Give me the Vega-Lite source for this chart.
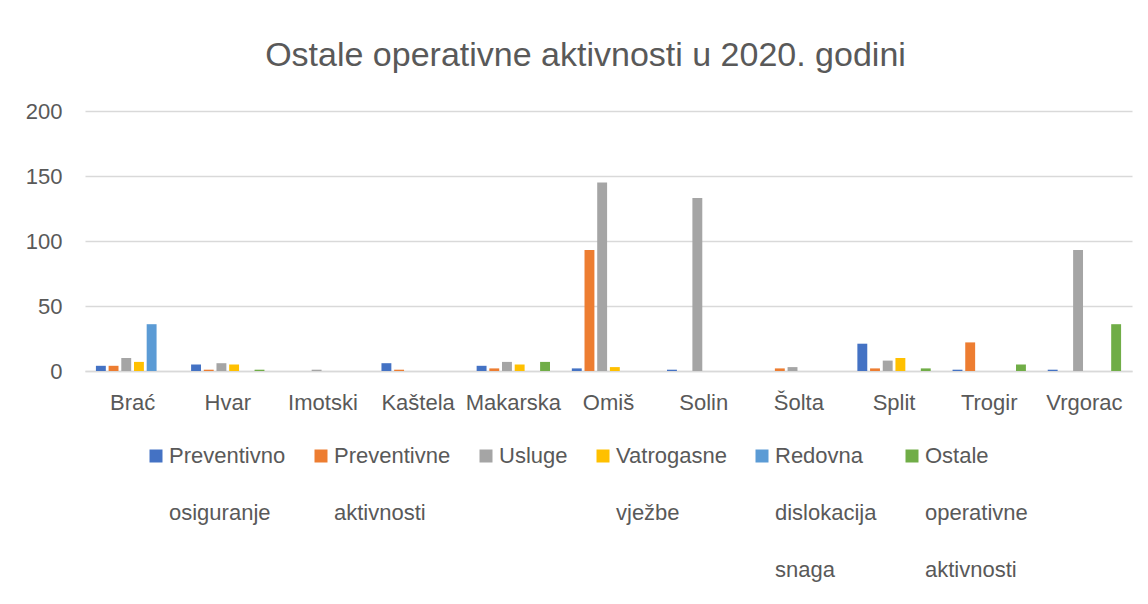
{
  "$schema": "https://vega.github.io/schema/vega-lite/v6.json",
  "width": 1047,
  "height": 260,
  "autosize": "none",
  "padding": {"left": 85, "top": 111, "right": 16, "bottom": 233},
  "background": "white",
  "title": {
    "text": "Ostale operativne aktivnosti u 2020. godini",
    "font": "Liberation Sans",
    "fontSize": 34,
    "fontWeight": "normal",
    "color": "#595959",
    "anchor": "middle",
    "offset": 27,
    "dx": -23
  },
  "data": {
    "values": [
      {"grad": "Brać", "vrsta": "Preventivno osiguranje", "broj": 4},
      {"grad": "Brać", "vrsta": "Preventivne aktivnosti", "broj": 4},
      {"grad": "Brać", "vrsta": "Usluge", "broj": 10},
      {"grad": "Brać", "vrsta": "Vatrogasne vježbe", "broj": 7},
      {"grad": "Brać", "vrsta": "Redovna dislokacija snaga", "broj": 36},
      {"grad": "Hvar", "vrsta": "Preventivno osiguranje", "broj": 5},
      {"grad": "Hvar", "vrsta": "Preventivne aktivnosti", "broj": 1},
      {"grad": "Hvar", "vrsta": "Usluge", "broj": 6},
      {"grad": "Hvar", "vrsta": "Vatrogasne vježbe", "broj": 5},
      {"grad": "Hvar", "vrsta": "Ostale operativne aktivnosti", "broj": 1},
      {"grad": "Imotski", "vrsta": "Usluge", "broj": 1},
      {"grad": "Kaštela", "vrsta": "Preventivno osiguranje", "broj": 6},
      {"grad": "Kaštela", "vrsta": "Preventivne aktivnosti", "broj": 1},
      {"grad": "Makarska", "vrsta": "Preventivno osiguranje", "broj": 4},
      {"grad": "Makarska", "vrsta": "Preventivne aktivnosti", "broj": 2},
      {"grad": "Makarska", "vrsta": "Usluge", "broj": 7},
      {"grad": "Makarska", "vrsta": "Vatrogasne vježbe", "broj": 5},
      {"grad": "Makarska", "vrsta": "Ostale operativne aktivnosti", "broj": 7},
      {"grad": "Omiš", "vrsta": "Preventivno osiguranje", "broj": 2},
      {"grad": "Omiš", "vrsta": "Preventivne aktivnosti", "broj": 93},
      {"grad": "Omiš", "vrsta": "Usluge", "broj": 145},
      {"grad": "Omiš", "vrsta": "Vatrogasne vježbe", "broj": 3},
      {"grad": "Solin", "vrsta": "Preventivno osiguranje", "broj": 1},
      {"grad": "Solin", "vrsta": "Usluge", "broj": 133},
      {"grad": "Šolta", "vrsta": "Preventivne aktivnosti", "broj": 2},
      {"grad": "Šolta", "vrsta": "Usluge", "broj": 3},
      {"grad": "Split", "vrsta": "Preventivno osiguranje", "broj": 21},
      {"grad": "Split", "vrsta": "Preventivne aktivnosti", "broj": 2},
      {"grad": "Split", "vrsta": "Usluge", "broj": 8},
      {"grad": "Split", "vrsta": "Vatrogasne vježbe", "broj": 10},
      {"grad": "Split", "vrsta": "Ostale operativne aktivnosti", "broj": 2},
      {"grad": "Trogir", "vrsta": "Preventivno osiguranje", "broj": 1},
      {"grad": "Trogir", "vrsta": "Preventivne aktivnosti", "broj": 22},
      {"grad": "Trogir", "vrsta": "Ostale operativne aktivnosti", "broj": 5},
      {"grad": "Vrgorac", "vrsta": "Preventivno osiguranje", "broj": 1},
      {"grad": "Vrgorac", "vrsta": "Usluge", "broj": 93},
      {"grad": "Vrgorac", "vrsta": "Ostale operativne aktivnosti", "broj": 36}
    ]
  },
  "mark": {"type": "bar"},
  "encoding": {
    "x": {
      "field": "grad",
      "type": "nominal",
      "scale": {
        "domain": ["Brać", "Hvar", "Imotski", "Kaštela", "Makarska", "Omiš", "Solin", "Šolta", "Split", "Trogir", "Vrgorac"],
        "paddingInner": 0.2,
        "paddingOuter": 0.1
      },
      "axis": {
        "title": null,
        "labelAngle": 0,
        "ticks": false,
        "labelPadding": 21,
        "domainColor": "#d9d9d9",
        "domainWidth": 1.5,
        "grid": false
      }
    },
    "xOffset": {
      "field": "vrsta",
      "type": "nominal",
      "scale": {
        "domain": ["Preventivno osiguranje", "Preventivne aktivnosti", "Usluge", "Vatrogasne vježbe", "Redovna dislokacija snaga", "Ostale operativne aktivnosti"],
        "paddingInner": 0.22,
        "paddingOuter": 0.11
      }
    },
    "y": {
      "field": "broj",
      "type": "quantitative",
      "scale": {"domain": [0, 200], "nice": false},
      "axis": {
        "title": null,
        "values": [0, 50, 100, 150, 200],
        "ticks": false,
        "domain": false,
        "labelPadding": 23,
        "gridColor": "#d9d9d9",
        "gridWidth": 1.3
      }
    },
    "color": {
      "field": "vrsta",
      "type": "nominal",
      "scale": {
        "domain": ["Preventivno osiguranje", "Preventivne aktivnosti", "Usluge", "Vatrogasne vježbe", "Redovna dislokacija snaga", "Ostale operativne aktivnosti"],
        "range": ["#4472C4", "#ED7D31", "#A5A5A5", "#FFC000", "#5B9BD5", "#70AD47"]
      },
      "legend": {
        "title": null,
        "orient": "none",
        "legendX": 60,
        "legendY": 334,
        "direction": "horizontal",
        "columns": 6,
        "columnPadding": 24,
        "gridAlign": "each",
        "padding": 0,
        "symbolType": "square",
        "symbolSize": 169,
        "symbolStrokeWidth": 0,
        "labelOffset": 2,
        "labelLimit": 400,
        "labelBaseline": "middle",
        "labelExpr": "slice(split(datum.label + ' \u00a0 \u00a0', ' '), 0, 3)"
      }
    }
  },
  "config": {
    "font": "Liberation Sans",
    "view": {"stroke": null},
    "axis": {
      "labelFont": "Liberation Sans",
      "labelFontSize": 22,
      "labelColor": "#595959"
    },
    "legend": {
      "labelFont": "Liberation Sans",
      "labelFontSize": 22,
      "labelColor": "#595959"
    },
    "style": {
      "guide-label": {"lineHeight": 57}
    }
  }
}
